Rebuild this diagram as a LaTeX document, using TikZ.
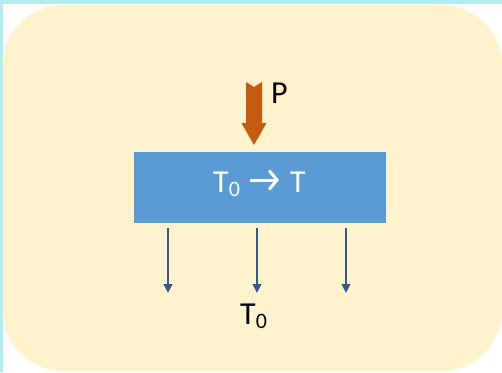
\documentclass[tikz,border=0pt]{standalone}
\usepackage{fontspec}
\setmainfont{Carlito}
\usetikzlibrary{arrows.meta}
\definecolor{bgcyan}{HTML}{AFEFEF}
\definecolor{panel}{HTML}{FFF2CC}
\definecolor{boxblue}{HTML}{5B9BD5}
\definecolor{loadorange}{HTML}{C55A11}
\definecolor{flowblue}{HTML}{2F5A8A}
\tikzset{
  flow/.style={draw=flowblue, line width=2.2pt, -{Triangle[length=9pt,width=8.5pt]}},
  bigtext/.style={font=\fontsize{32}{36}\selectfont, inner sep=0pt},
  chev/.style={draw=white, line width=3pt, -{Straight Barb[length=8pt,width=19pt,line width=3pt]}},
}
\newcommand{\subz}{\raisebox{-4.5pt}{\fontsize{22}{22}\selectfont 0}}
\begin{document}
\begin{tikzpicture}[x=1pt,y=-1pt]
\useasboundingbox (0,0) rectangle (502,372);
\fill[bgcyan] (0,0) rectangle (502,372);
\fill[white] (3,4) rectangle (502,372);
\fill[panel, rounded corners=60pt] (3,5) rectangle (502,371);
% block
\node[fill=boxblue, minimum width=252pt, minimum height=71pt, inner sep=0pt, anchor=north west] (box) at (134,152) {};
\node[bigtext, text=white, anchor=base west] (tin) at (213,192) {T\subz};
\node[bigtext, text=white, anchor=base east] (tout) at (306,192) {T};
\coordinate (a1) at (250,180);
\coordinate (a2) at (279,180);
\draw[chev] (a1) -- (a2);
% load arrow
\fill[loadorange] (246,82) -- (254,87) -- (262,82) -- (262,123) -- (266.5,123) -- (254,145) -- (241.5,123) -- (246,123) -- cycle;
\node[bigtext, anchor=base west] (P) at (271,103) {P};
% outflow arrows
\coordinate (s1) at (168,228); \coordinate (e1) at (168,293);
\coordinate (s2) at (257,228); \coordinate (e2) at (257,293);
\coordinate (s3) at (346,228); \coordinate (e3) at (346,293);
\draw[flow] (s1) -- (e1);
\draw[flow] (s2) -- (e2);
\draw[flow] (s3) -- (e3);
\node[bigtext, anchor=base west] (T0) at (240,324) {T\subz};
\end{tikzpicture}
\end{document}
